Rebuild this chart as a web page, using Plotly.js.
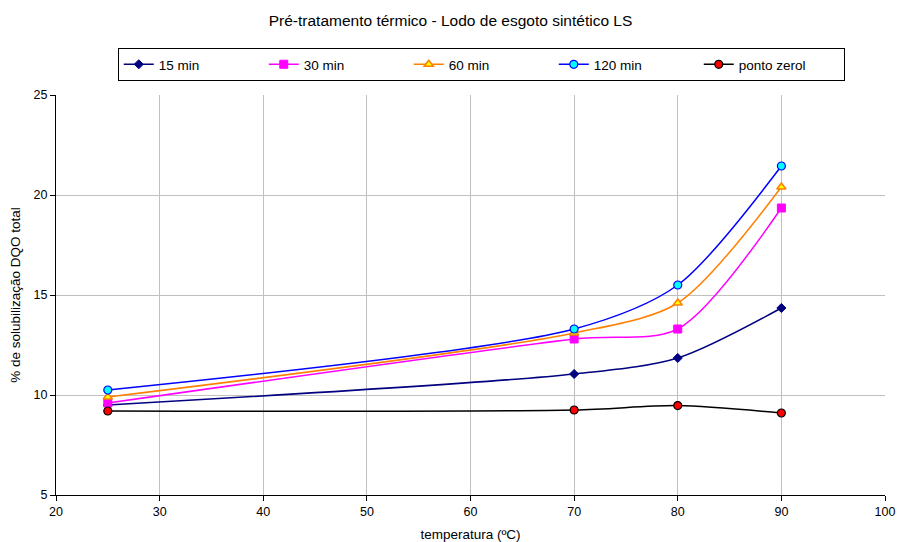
<!DOCTYPE html>
<html>
<head>
<meta charset="utf-8">
<script src="https://cdn.plot.ly/plotly-3.0.1.min.js"></script>
<style>html,body{margin:0;padding:0;background:#fff;}#chart{width:901px;height:542px;}</style>
</head>
<body>
<div id="chart"></div>
<script>
const temperatures = [25, 70, 80, 90];
const seriesNames = ["15 min", "30 min", "60 min", "120 min", "ponto zerol"];
const s15 = [9.5, 11.05, 11.85, 14.35];
const s30 = [9.6, 12.8, 13.3, 19.35];
const s60 = [9.9, 13.1, 14.6, 20.4];
const s120 = [10.25, 13.3, 15.5, 21.45];
const sZero = [9.2, 9.25, 9.47, 9.1];
const xTicks = [20, 30, 40, 50, 60, 70, 80, 90, 100];
const yTicks = [5, 10, 15, 20, 25];

const styles = [
  {line: "#000080", marker: {symbol: "diamond", color: "#000080", size: 7, line: {color: "#000080", width: 1}}},
  {line: "#FF00FF", marker: {symbol: "square", color: "#FF00FF", size: 8, line: {color: "#FF00FF", width: 1}}},
  {line: "#FF7F00", marker: {symbol: "triangle-up", color: "#FFFF00", size: 8, line: {color: "#FF7F00", width: 1.5}}},
  {line: "#0000FF", marker: {symbol: "circle", color: "#00FFFF", size: 8, line: {color: "#0000FF", width: 1.2}}},
  {line: "#000000", marker: {symbol: "circle", color: "#FF0000", size: 8, line: {color: "#000000", width: 1.2}}}
];
const allSeries = [s15, s30, s60, s120, sZero];

const traces = allSeries.map((ys, i) => ({
  x: temperatures,
  y: ys,
  name: seriesNames[i],
  type: "scatter",
  mode: "lines+markers",
  line: {color: styles[i].line, width: 1.5, shape: "spline", smoothing: 0.8},
  marker: styles[i].marker
}));

const layout = {
  width: 901, height: 542,
  margin: {l: 56, r: 16, t: 95, b: 47},
  paper_bgcolor: "#fff", plot_bgcolor: "#fff",
  font: {family: "Liberation Sans, Arial, sans-serif", size: 12.5, color: "#000"},
  title: {text: "Pré-tratamento térmico - Lodo de esgoto sintético LS", x: 0.5, xanchor: "center", y: 0.962, yanchor: "middle", font: {size: 15.5}},
  xaxis: {
    range: [20, 100], tickvals: xTicks, ticktext: xTicks.map(String),
    showgrid: true, gridcolor: "#c0c0c0", gridwidth: 1,
    showline: true, linecolor: "#000", linewidth: 1,
    ticks: "outside", ticklen: 5, tickcolor: "#000",
    zeroline: false,
    title: {text: "temperatura (ºC)", font: {size: 13.5}, standoff: 14}
  },
  yaxis: {
    range: [5, 25], tickvals: yTicks, ticktext: yTicks.map(String),
    showgrid: true, gridcolor: "#c0c0c0", gridwidth: 1,
    showline: true, linecolor: "#000", linewidth: 1,
    ticks: "outside", ticklen: 5, tickcolor: "#000",
    zeroline: false,
    title: {text: "% de solubilização DQO total", font: {size: 13.5}, standoff: 9}
  },
  showlegend: true,
  legend: {
    orientation: "h", x: 0.0745, xanchor: "left", y: 1.1175, yanchor: "top",
    bordercolor: "#000", borderwidth: 1, bgcolor: "#fff",
    font: {size: 13.5}, entrywidth: 100, entrywidthmode: "pixels",
    itemwidth: 30, tracegroupgap: 0
  }
};

Plotly.newPlot("chart", traces, layout, {displayModeBar: false, staticPlot: true});
</script>
</body>
</html>
